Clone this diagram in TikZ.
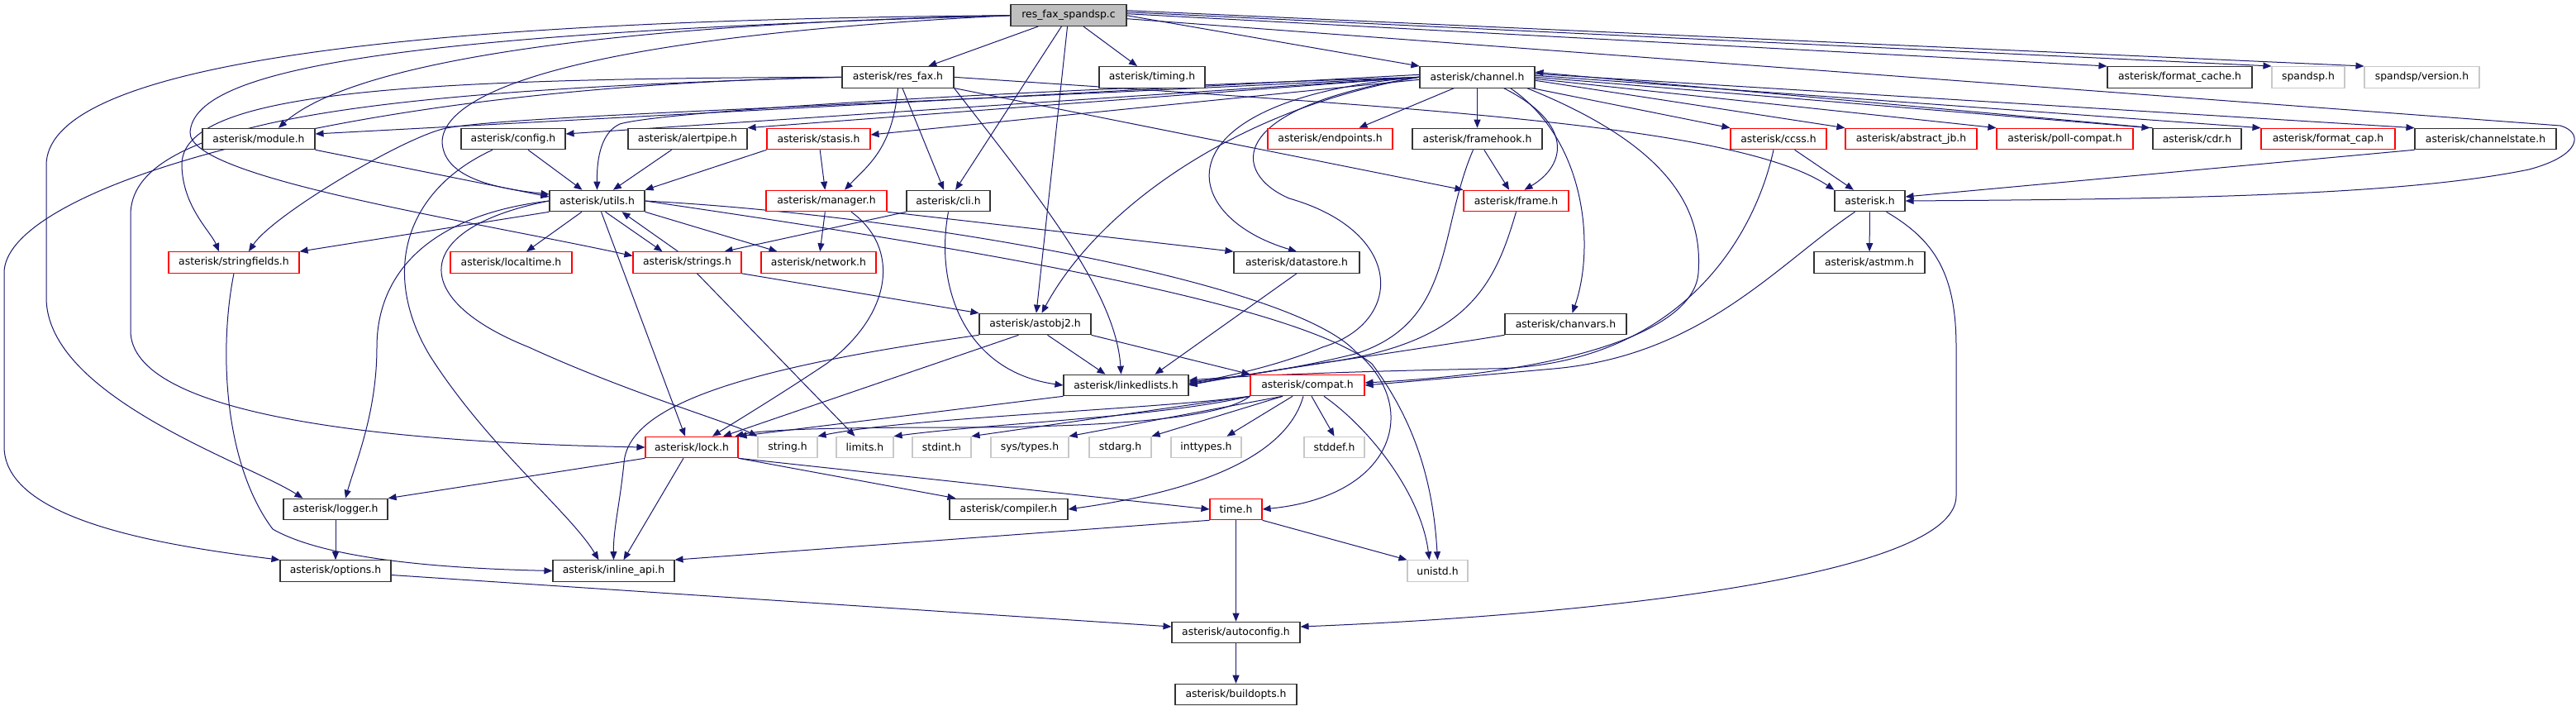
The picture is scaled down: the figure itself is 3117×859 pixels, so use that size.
\documentclass[tikz,border=0pt]{standalone}
\usepackage{fontspec}
\setmainfont{DejaVu Sans}
\usetikzlibrary{arrows.meta, backgrounds}

\definecolor{edgeblue}{RGB}{25,25,112}
\definecolor{truncred}{RGB}{255,0,0}
\definecolor{sysgray}{RGB}{200,200,200}
\definecolor{rootgray}{RGB}{191,191,191}

\tikzset{
    hdr/.style={draw=black!80, line width=1.1pt, fill=white, inner sep=0pt,
        minimum height=25.5pt, font=\fontsize{12.4}{14}\selectfont},
    trunc/.style={hdr, draw=truncred},
    sys/.style={hdr, draw=sysgray},
    root/.style={hdr, fill=rootgray},
    incl/.style={draw=edgeblue, line width=1pt, -{Triangle[length=10pt, width=8pt]}}
}

\begin{document}
\begin{tikzpicture}[x=1pt, y=-1pt]
    % Fix the canvas to the size of the original graph
    \useasboundingbox (0,0) rectangle (3117,859);

    % Level 0: the source file
    \node[root, minimum width=140] (spandspc) at (1293,18.7) {res\_fax\_spandsp.c};

    % Level 1
    \node[hdr, minimum width=135] (resfax) at (1086.5,93.3) {asterisk/res\_fax.h};
    \node[hdr, minimum width=128] (timing) at (1394,93.3) {asterisk/timing.h};
    \node[hdr, minimum width=139] (channel) at (1787.5,93.3) {asterisk/channel.h};
    \node[hdr, minimum width=175] (formatcache) at (2637.5,93.3) {asterisk/format\_cache.h};
    \node[sys, minimum width=88] (spandsph) at (2793,93.3) {spandsp.h};
    \node[sys, minimum width=139] (spandspver) at (2930.5,93.3) {spandsp/version.h};

    % Level 2
    \node[hdr, minimum width=136] (module) at (313,168) {asterisk/module.h};
    \node[hdr, minimum width=126] (config) at (621,168) {asterisk/config.h};
    \node[hdr, minimum width=144] (alertpipe) at (832,168) {asterisk/alertpipe.h};
    \node[trunc, minimum width=125] (stasis) at (990.5,168) {asterisk/stasis.h};
    \node[trunc, minimum width=151] (endpoints) at (1609.5,168) {asterisk/endpoints.h};
    \node[hdr, minimum width=157] (framehook) at (1787.5,168) {asterisk/framehook.h};
    \node[trunc, minimum width=116] (ccss) at (2152,168) {asterisk/ccss.h};
    \node[trunc, minimum width=159] (abstractjb) at (2312.5,168) {asterisk/abstract\_jb.h};
    \node[trunc, minimum width=165] (pollcompat) at (2498.5,168) {asterisk/poll-compat.h};
    \node[hdr, minimum width=107] (cdr) at (2658.5,168) {asterisk/cdr.h};
    \node[trunc, minimum width=162] (formatcap) at (2817,168) {asterisk/format\_cap.h};
    \node[hdr, minimum width=171] (channelstate) at (3007.5,168) {asterisk/channelstate.h};

    % Level 3
    \node[hdr, minimum width=115] (utils) at (722.5,243) {asterisk/utils.h};
    \node[trunc, minimum width=146] (manager) at (1000,243) {asterisk/manager.h};
    \node[hdr, minimum width=101] (cli) at (1147.5,243) {asterisk/cli.h};
    \node[trunc, minimum width=127] (frame) at (1834.5,243) {asterisk/frame.h};
    \node[hdr, minimum width=85] (asteriskh) at (2262.5,243) {asterisk.h};

    % Level 4
    \node[trunc, minimum width=158] (stringfields) at (283,317.5) {asterisk/stringfields.h};
    \node[trunc, minimum width=147] (localtime) at (618.5,317.5) {asterisk/localtime.h};
    \node[trunc, minimum width=131] (strings) at (831.5,317.5) {asterisk/strings.h};
    \node[trunc, minimum width=139] (network) at (990.5,317.5) {asterisk/network.h};
    \node[hdr, minimum width=152] (datastore) at (1569,317.5) {asterisk/datastore.h};
    \node[hdr, minimum width=134] (astmm) at (2262,317.5) {asterisk/astmm.h};

    % Level 5
    \node[hdr, minimum width=135] (astobj2) at (1252.5,392) {asterisk/astobj2.h};
    \node[hdr, minimum width=147] (chanvars) at (1894.5,392) {asterisk/chanvars.h};

    % Level 6
    \node[hdr, minimum width=151] (linkedlists) at (1362.5,466) {asterisk/linkedlists.h};
    \node[trunc, minimum width=138] (compat) at (1582,466) {asterisk/compat.h};

    % Level 7
    \node[trunc, minimum width=112] (lock) at (837,541) {asterisk/lock.h};
    \node[sys, minimum width=72] (stringh) at (953,541) {string.h};
    \node[sys, minimum width=69] (limits) at (1046.5,541) {limits.h};
    \node[sys, minimum width=71] (stdint) at (1139.5,541) {stdint.h};
    \node[sys, minimum width=94] (systypes) at (1246,541) {sys/types.h};
    \node[sys, minimum width=75] (stdarg) at (1355.5,541) {stdarg.h};
    \node[sys, minimum width=85] (inttypes) at (1459.5,541) {inttypes.h};
    \node[sys, minimum width=73] (stddef) at (1614.5,541) {stddef.h};

    % Level 8
    \node[hdr, minimum width=126] (logger) at (406,616) {asterisk/logger.h};
    \node[hdr, minimum width=143] (compiler) at (1220.5,616) {asterisk/compiler.h};
    \node[trunc, minimum width=63] (timeh) at (1495.5,616) {time.h};

    % Level 9
    \node[hdr, minimum width=134] (options) at (406,690.5) {asterisk/options.h};
    \node[hdr, minimum width=147] (inlineapi) at (742.5,690.5) {asterisk/inline\_api.h};
    \node[sys, minimum width=73] (unistd) at (1739.5,690.5) {unistd.h};

    % Level 10 and 11
    \node[hdr, minimum width=155] (autoconfig) at (1495.5,765) {asterisk/autoconfig.h};
    \node[hdr, minimum width=147] (buildopts) at (1495.5,840) {asterisk/buildopts.h};

    % Draw all include arrows below the boxes
    \begin{pgfonlayer}{background}
        \fill[white] (0,0) rectangle (3117,859);

        % Straight includes between box centres
        \foreach \a/\b in {spandspc/resfax, spandspc/timing, spandspc/cli, spandspc/astobj2,
            resfax/cli, channel/framehook, framehook/frame, ccss/asteriskh,
            config/utils, alertpipe/utils, stasis/manager, manager/network,
            utils/localtime, asteriskh/astmm, logger/options, timeh/autoconfig,
            autoconfig/buildopts}
            \draw[incl] (\a) -- (\b);

        % res_fax_spandsp.c towards the right
        \draw[incl] (spandspc.east) -- (channel.north west);
        \draw[incl] ([yshift=2pt]spandspc.east) -- (formatcache.north west);
        \draw[incl] ([yshift=4pt]spandspc.east) -- (spandsph.north west);
        \draw[incl] ([yshift=6pt]spandspc.east) -- (spandspver.north west);
        \draw[incl] ([yshift=-4pt]spandspc.east) -- (3098,152)
            .. controls (3126,160) and (3124,188) .. (3060,205)
            .. controls (2900,238) and (2600,241) .. (asteriskh.east);

        % res_fax_spandsp.c towards the left
        \draw[incl] (spandspc.west) .. controls (400,25) and (56,90) .. (56,200)
            -- (56,360) .. controls (56,480) and (300,560) .. ([xshift=24pt]logger.north west);
        \draw[incl] (spandspc.west) .. controls (500,40) and (235,80) .. (230,160)
            .. controls (228,215) and (560,265) .. ([yshift=8pt]strings.west);
        \draw[incl] (spandspc.west) .. controls (700,30) and (420,80) .. ([xshift=24pt]module.north);
        \draw[incl] (spandspc.west) .. controls (700,45) and (540,110) .. (535,170)
            .. controls (535,215) and (600,228) .. ([yshift=8pt]utils.west);

        % asterisk/res_fax.h
        \draw[incl] (resfax.west) .. controls (400,105) and (5,230) .. (5,330)
            -- (5,540) .. controls (5,630) and (200,660) .. (options.north west);
        \draw[incl] (resfax.west) .. controls (420,110) and (158,150) .. (158,260)
            -- (158,400) .. controls (158,500) and (450,535) .. (lock.west);
        \draw[incl] (resfax.west) .. controls (500,95) and (218,110) .. (220,200)
            .. controls (221,250) and (255,280) .. ([xshift=-18pt]stringfields.north);
        \draw[incl] (resfax.south) .. controls (1080,180) and (1050,200) .. ([xshift=22pt]manager.north);
        \draw[incl] (resfax.south east) .. controls (1250,230) and (1350,350) .. ([xshift=-6pt]linkedlists.north);
        \draw[incl] (resfax.south east) -- (frame.north west);
        \draw[incl] (resfax.east) .. controls (1700,130) and (2100,150) .. (asteriskh.north west);

        % asterisk/channel.h towards the left
        \draw[incl] ([yshift=3pt]channel.west) -- ([yshift=6pt]module.east);
        \draw[incl] (channel.west) -- ([yshift=6pt]config.east);
        \draw[incl] (channel.west) -- (alertpipe.north east);
        \draw[incl] ([yshift=-3pt]channel.west) -- ([yshift=5pt]stasis.east);
        \draw[incl] (channel.west) .. controls (1200,110) and (800,135) .. (750,150)
            .. controls (728,160) and (722,190) .. (utils.north);
        \draw[incl] (channel.west) .. controls (1000,130) and (620,140) .. (540,155)
            .. controls (490,165) and (330,260) .. ([xshift=18pt]stringfields.north);

        % asterisk/channel.h downwards
        \draw[incl] ([xshift=-28pt]channel.south) -- ([xshift=35pt]endpoints.north);
        \draw[incl] ([xshift=32pt]channel.south) .. controls (1905,150) and (1895,200) .. ([xshift=10pt]frame.north);
        \draw[incl] ([xshift=40pt]channel.south) .. controls (1920,170) and (1930,300) .. ([xshift=8pt]chanvars.north);
        \draw[incl] (channel.west) .. controls (1500,130) and (1330,250) .. ([xshift=8pt]astobj2.north);
        \draw[incl] (channel.west) .. controls (1400,120) and (1420,260) .. (datastore.north);
        \draw[incl] (channel.west) .. controls (1480,130) and (1490,210) .. (1560,240)
            .. controls (1700,280) and (1700,390) .. (1600,420)
            .. controls (1540,445) and (1470,458) .. ([yshift=2pt]linkedlists.east);
        \draw[incl] ([xshift=-10pt]channel.south east) .. controls (2030,180) and (2060,260) .. (2055,330)
            .. controls (2050,400) and (1900,450) .. ([yshift=3pt]compat.east);

        % asterisk/channel.h towards the right
        \draw[incl] ([xshift=-4pt]channel.south east) -- (ccss.north west);
        \draw[incl] ([yshift=-4pt]channel.east) -- (abstractjb.north west);
        \draw[incl] ([yshift=-2pt]channel.east) -- (pollcompat.north west);
        \draw[incl] (channel.east) -- ([xshift=-3pt]cdr.north west);
        \draw[incl] ([yshift=2pt]channel.east) -- (formatcap.north west);
        \draw[incl] ([yshift=4pt]channel.east) -- (channelstate.north west);
        \draw[incl] (cdr.north west) -- ([yshift=6pt]channel.east);
        \draw[incl] (channelstate.south west) -- ([yshift=5pt]asteriskh.east);

        % Headers under asterisk/channel.h
        \draw[incl] ([xshift=-5pt]framehook.south) .. controls (1740,280) and (1760,390) .. (1640,428)
            .. controls (1560,448) and (1480,458) .. ([yshift=4pt]linkedlists.east);
        \draw[incl] (frame.south) .. controls (1810,340) and (1780,410) .. (1620,436)
            .. controls (1540,448) and (1480,458) .. ([yshift=1pt]linkedlists.east);
        \draw[incl] (chanvars.south west) .. controls (1700,425) and (1520,450) .. (linkedlists.east);
        \draw[incl] ([xshift=-6pt]ccss.south) .. controls (2120,300) and (2020,445) .. (1800,446)
            .. controls (1600,450) and (1500,455) .. ([yshift=6pt]linkedlists.east);
        \draw[incl] ([xshift=-18pt]asteriskh.south) .. controls (2150,320) and (2060,430) .. (1880,446)
            .. controls (1780,455) and (1700,462) .. (compat.east);
        \draw[incl] ([xshift=20pt]asteriskh.south) .. controls (2340,290) and (2367,330) .. (2367,420)
            -- (2367,600) .. controls (2367,700) and (1900,745) .. ([yshift=7pt]autoconfig.east);
        \draw[incl] (datastore.south) -- ([xshift=35pt]linkedlists.north);

        % Remaining headers at the upper levels
        \draw[incl] (module.south east) -- ([yshift=5pt]utils.west);
        \draw[incl] ([xshift=-25pt]config.south) .. controls (490,230) and (460,330) .. (520,430)
            .. controls (590,540) and (690,620) .. ([xshift=-18pt]inlineapi.north);
        \draw[incl] (stasis.south west) -- (utils.north east);
        \draw[incl] (manager.south east) -- (datastore.north west);
        \draw[incl] ([xshift=30pt]manager.south) .. controls (1090,300) and (1080,380) .. (1000,440)
            .. controls (940,480) and (890,510) .. ([xshift=25pt]lock.north);
        \draw[incl] (cli.south west) -- ([xshift=45pt]strings.north);
        \draw[incl] (cli.south) .. controls (1130,350) and (1170,450) .. (linkedlists.west);

        % asterisk/utils.h and asterisk/strings.h
        \draw[incl] ([xshift=10pt]utils.south) -- ([xshift=-30pt]strings.north);
        \draw[incl] ([xshift=-11pt]strings.north) -- ([xshift=30pt]utils.south);
        \draw[incl] (utils.south west) -- (stringfields.north east);
        \draw[incl] (utils.south east) -- ([xshift=-50pt]network.north);
        \draw[incl] ([xshift=5pt]utils.south) -- ([xshift=-8pt]lock.north);
        \draw[incl] (utils.west) .. controls (520,260) and (456,330) .. (456,420)
            .. controls (456,500) and (430,560) .. ([xshift=12pt]logger.north);
        \draw[incl] (utils.west) .. controls (500,275) and (490,360) .. (640,420)
            .. controls (760,475) and (880,510) .. (stringh.north west);
        \draw[incl] (utils.east) .. controls (1100,260) and (1560,340) .. (1640,425)
            .. controls (1720,490) and (1690,600) .. (timeh.east);
        \draw[incl] (utils.east) .. controls (1100,290) and (1560,360) .. (1660,440)
            .. controls (1720,520) and (1735,600) .. (unistd.north);
        \draw[incl] (strings.south east) -- (astobj2.north west);
        \draw[incl] ([xshift=12pt]strings.south) -- ([xshift=-12pt]limits.north);

        % asterisk/astobj2.h
        \draw[incl] ([xshift=-20pt]astobj2.south) -- ([xshift=38pt]lock.north);
        \draw[incl] ([xshift=15pt]astobj2.south) -- ([xshift=-25pt]linkedlists.north);
        \draw[incl] (astobj2.south east) -- (compat.north west);
        \draw[incl] (astobj2.south west) .. controls (900,445) and (760,490) .. (755,560)
            .. controls (750,610) and (742,640) .. (inlineapi.north);

        % asterisk/linkedlists.h and asterisk/compat.h
        \draw[incl] (linkedlists.south west) -- (lock.north east);
        \draw[incl] (compat.south west) .. controls (1480,505) and (1350,517) .. (1150,517)
            .. controls (1000,517) and (920,520) .. ([xshift=-4pt]lock.north east);
        \draw[incl] (compat.south west) .. controls (1400,495) and (1100,505) .. (stringh.north east);
        \draw[incl] (compat.south west) .. controls (1400,505) and (1200,512) .. (limits.north east);
        \draw[incl] (compat.south west) -- (stdint.north east);
        \draw[incl] ([xshift=-30pt]compat.south) -- (systypes.north east);
        \draw[incl] ([xshift=-30pt]compat.south) -- (stdarg.north east);
        \draw[incl] ([xshift=-18pt]compat.south) -- ([xshift=25pt]inttypes.north);
        \draw[incl] ([xshift=5pt]compat.south) -- (stddef.north);
        \draw[incl] ([xshift=-5pt]compat.south) .. controls (1560,540) and (1480,590) .. (compiler.east);
        \draw[incl] ([xshift=20pt]compat.south) .. controls (1660,520) and (1720,600) .. ([xshift=-10pt]unistd.north);

        % asterisk/lock.h
        \draw[incl] (lock.south west) -- (logger.north east);
        \draw[incl] ([xshift=-10pt]lock.south) -- ([xshift=12pt]inlineapi.north);
        \draw[incl] (lock.south east) -- ([xshift=8pt]compiler.north west);
        \draw[incl] (lock.south east) -- (timeh.west);

        % Lowest levels
        \draw[incl] (timeh.south west) -- (inlineapi.north east);
        \draw[incl] (timeh.south east) -- (unistd.north west);
        \draw[incl] ([yshift=-5pt]options.east) -- ([yshift=7pt]autoconfig.west);
        \draw[incl] (stringfields.south) .. controls (265,420) and (270,560) .. (330,640)
            .. controls (400,680) and (560,688) .. (inlineapi.west);
    \end{pgfonlayer}
\end{tikzpicture}
\end{document}
